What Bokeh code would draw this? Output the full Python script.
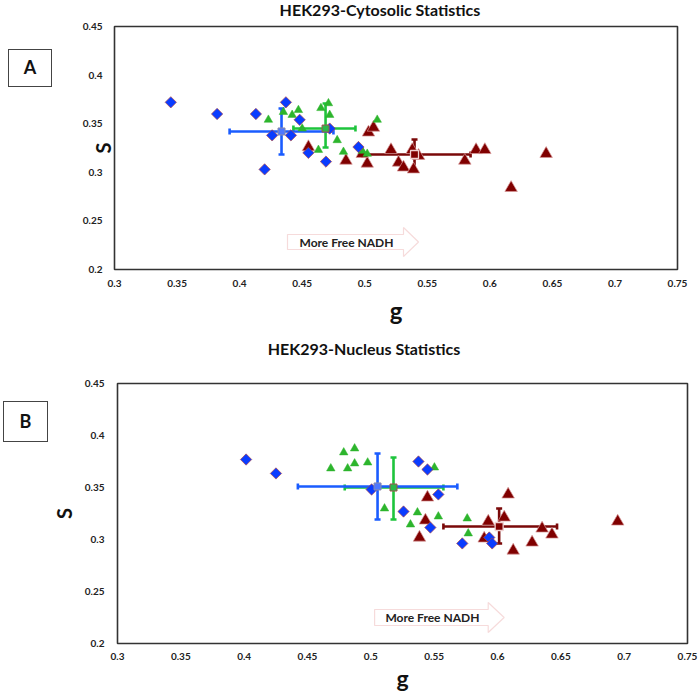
import math
from bokeh.plotting import figure
from bokeh.layouts import column, row
from bokeh.models import (Label, PolyAnnotation, Whisker, ColumnDataSource,
                          Range1d, TeeHead, FixedTicker, Div)
from bokeh.embed import file_html
from bokeh.resources import INLINE

# ---------------- data ----------------
X_TICKS = [0.3, 0.35, 0.4, 0.45, 0.5, 0.55, 0.6, 0.65, 0.7, 0.75]
X_TICK_LABELS = ["0.3", "0.35", "0.4", "0.45", "0.5", "0.55", "0.6", "0.65", "0.7", "0.75"]
Y_TICKS = [0.2, 0.25, 0.3, 0.35, 0.4, 0.45]
Y_TICK_LABELS = ["0.2", "0.25", "0.3", "0.35", "0.4", "0.45"]

# Panel A: HEK293-Cytosolic
A_blue_g = [0.345, 0.382, 0.413, 0.437, 0.448, 0.426, 0.441, 0.455, 0.420, 0.469, 0.472, 0.495]
A_blue_s = [0.372, 0.360, 0.360, 0.372, 0.354, 0.338, 0.338, 0.320, 0.303, 0.311, 0.345, 0.326]
A_green_g = [0.423, 0.435, 0.442, 0.447, 0.450, 0.465, 0.471, 0.472, 0.463, 0.478, 0.483, 0.510, 0.498, 0.502]
A_green_s = [0.354, 0.362, 0.359, 0.364, 0.345, 0.366, 0.371, 0.359, 0.323, 0.333, 0.321, 0.354, 0.322, 0.319]
A_red_g = [0.455, 0.485, 0.503, 0.507, 0.502, 0.498, 0.521, 0.527, 0.531, 0.538, 0.543, 0.539,
           0.580, 0.589, 0.596, 0.645, 0.617]
A_red_s = [0.326, 0.312, 0.341, 0.346, 0.309, 0.319, 0.323, 0.310, 0.305, 0.323, 0.317, 0.303,
           0.312, 0.323, 0.323, 0.319, 0.284]
# means and error extents: blue, green, red
A_mean_g = [0.4335, 0.4687, 0.5398]
A_mean_s = [0.342, 0.345, 0.3183]
A_g_lo = [0.392, 0.443, 0.498]
A_g_hi = [0.475, 0.4926, 0.5846]
A_s_lo = [0.3183, 0.3255, 0.3019]
A_s_hi = [0.3656, 0.3708, 0.3337]

# Panel B: HEK293-Nucleus
B_blue_g = [0.4015, 0.4251, 0.5376, 0.5447, 0.5006, 0.5533, 0.5258, 0.5470, 0.5722, 0.5935, 0.5958]
B_blue_s = [0.3769, 0.3635, 0.3750, 0.3673, 0.3481, 0.3433, 0.3269, 0.3115, 0.2962, 0.3019, 0.2962]
B_green_g = [0.4786, 0.4872, 0.4817, 0.4872, 0.4975, 0.4684, 0.5502, 0.5108, 0.5368, 0.5313,
             0.5533, 0.5761, 0.5769]
B_green_s = [0.3837, 0.3875, 0.3683, 0.3731, 0.3740, 0.3683, 0.3692, 0.3298, 0.3260, 0.3144,
             0.3221, 0.3202, 0.3058]
B_red_g = [0.5447, 0.6084, 0.5431, 0.5927, 0.6053, 0.6949, 0.5384, 0.5895, 0.6124, 0.6273, 0.6352, 0.6430]
B_red_s = [0.3404, 0.3433, 0.3183, 0.3173, 0.3212, 0.3173, 0.3019, 0.3010, 0.2894, 0.2971, 0.3106, 0.3048]
B_mean_g = [0.5053, 0.5179, 0.6013]
B_mean_s = [0.351, 0.350, 0.3125]
B_g_lo = [0.4424, 0.4794, 0.5573]
B_g_hi = [0.5683, 0.5573, 0.6470]
B_s_lo = [0.3192, 0.3192, 0.2962]
B_s_hi = [0.3827, 0.3788, 0.3298]

TITLE_A = "HEK293-Cytosolic Statistics"
TITLE_B = "HEK293-Nucleus Statistics"
ARROW_TEXT = "More Free NADH"

# ---------------- style ----------------
FONT = "Lato"
BLUE, BLUE_BAR = "#0a3cff", "#1a5cff"
GREEN, GREEN_BAR = "#2db52d", "#1ec43c"
RED, RED_BAR = "#800000", "#7a0808"
PAGE_W = 700


def title_div(text, center_x, top, height, center_y):
    # a strip spanning the page, text centred at center_x, center_y (page pixels)
    html = ('<div style="width:%dpx;height:%dpx;box-sizing:border-box;padding-top:%dpx;'
            'line-height:16px;text-align:center;font-family:Lato;font-weight:bold;'
            'font-size:16px;color:#111;white-space:nowrap">%s</div>'
            % (2 * center_x, height, center_y - top - 8, text))
    return Div(text=html, width=PAGE_W, height=height, margin=(0, 0, 0, 0))


def letter_div(letter, box, row_top):
    bl, br, bt, bb = box
    w, h = br - bl, bb - bt
    html = ('<div style="width:%dpx;height:%dpx;box-sizing:border-box;border:1.4px solid #444;'
            'display:flex;align-items:center;justify-content:center;font-family:Lato;'
            'font-weight:bold;font-size:18px;color:#111;background:white">%s</div>' % (w, h, letter))
    return Div(text=html, width=w, height=h, margin=(bt - row_top, 0, 0, bl))


def make_panel(fig_left, fig_top, fig_h, frame, s_standoff, g_standoff, g_size,
               tick_standoff_x, tick_standoff_y, arrow, arrow_text_xy, blue, green, red, means):
    fl, fr, ft, fb = frame   # page pixel edges of the plotting frame
    x0, x1, y0, y1 = 0.3, 0.75, 0.2, 0.45

    def gx(px):
        return x0 + (px - fl) * (x1 - x0) / (fr - fl)

    def sy(py):
        return y0 + (fb - py) * (y1 - y0) / (fb - ft)

    p = figure(width=PAGE_W - fig_left, height=fig_h, output_backend="svg", toolbar_location=None,
               x_range=Range1d(x0, x1), y_range=Range1d(y0, y1),
               min_border_left=fl - fig_left, min_border_right=PAGE_W - fr,
               min_border_top=ft - fig_top, min_border_bottom=fig_top + fig_h - fb)
    p.grid.visible = False
    p.outline_line_color = "#333333"
    p.outline_line_width = 1.6
    p.background_fill_color = "white"
    p.border_fill_color = "white"

    for ax, ticks, labels in ((p.xaxis, X_TICKS, X_TICK_LABELS), (p.yaxis, Y_TICKS, Y_TICK_LABELS)):
        ax.ticker = FixedTicker(ticks=ticks)
        ax.major_label_overrides = {t: l for t, l in zip(ticks, labels)}
        ax.axis_line_color = None
        ax.major_tick_line_color = None
        ax.minor_tick_line_color = None
        ax.major_tick_out = 0
        ax.major_tick_in = 0
        ax.minor_tick_out = 0
        ax.major_label_text_font = FONT
        ax.major_label_text_font_style = "bold"
        ax.major_label_text_font_size = "10px"
        ax.major_label_text_color = "#222222"
        ax.axis_label_text_font = FONT
        ax.axis_label_text_font_style = "bold"
        ax.axis_label_text_color = "#111111"
    p.xaxis.major_label_standoff = tick_standoff_x
    p.yaxis.major_label_standoff = tick_standoff_y
    p.xaxis.axis_label = "g"
    p.xaxis.axis_label_text_font_size = g_size
    p.xaxis.axis_label_standoff = g_standoff
    p.yaxis.axis_label = "S"
    p.yaxis.axis_label_text_font_size = "20px"
    p.yaxis.axis_label_standoff = s_standoff

    # points
    bg, bs = blue
    gg, gs = green
    rg, rs = red
    p.scatter(rg, rs, marker="triangle", size=12.5, fill_color=RED, line_color="#d89a9a", line_width=0.7)
    p.scatter(gg, gs, marker="triangle", size=8.5, fill_color=GREEN, line_color=GREEN, line_width=0.5)
    p.scatter(bg, bs, marker="square", angle=math.pi / 4, size=8, fill_color=BLUE,
              line_color="#b04848", line_width=0.7)

    # error bars
    mg, ms, glo, ghi, slo, shi = means
    bar_cols = [BLUE_BAR, GREEN_BAR, RED_BAR]
    for i in [2, 1, 0]:
        c = bar_cols[i]
        src = ColumnDataSource(dict(mg=[mg[i]], ms=[ms[i]], glo=[glo[i]], ghi=[ghi[i]],
                                    slo=[slo[i]], shi=[shi[i]]))
        p.add_layout(Whisker(source=src, base="ms", lower="glo", upper="ghi", dimension="width",
                             line_color=c, line_width=2.6,
                             lower_head=TeeHead(size=6, line_color=c, line_width=2.6),
                             upper_head=TeeHead(size=6, line_color=c, line_width=2.6)))
        p.add_layout(Whisker(source=src, base="mg", lower="slo", upper="shi", dimension="height",
                             line_color=c, line_width=2.6,
                             lower_head=TeeHead(size=6, line_color=c, line_width=2.6),
                             upper_head=TeeHead(size=6, line_color=c, line_width=2.6)))
    p.scatter([mg[0]], [ms[0]], marker="square", size=7, fill_color="#4f78ff", line_color="#8a8aa8", line_width=1)
    p.scatter([mg[1]], [ms[1]], marker="square", size=7, fill_color="#2ab84a", line_color="#a05050", line_width=1)
    p.scatter([mg[2]], [ms[2]], marker="square", size=8, fill_color=RED, line_color="#f0d0d0", line_width=1.3)

    # arrow annotation
    ax0, ax1, atip, ay_top, ay_bot, ah_top, ah_bot = arrow
    ymid = (ay_top + ay_bot) / 2
    xs = [gx(ax0), gx(ax1), gx(ax1), gx(atip), gx(ax1), gx(ax1), gx(ax0)]
    ys = [sy(ay_top), sy(ay_top), sy(ah_top), sy(ymid), sy(ah_bot), sy(ay_bot), sy(ay_bot)]
    p.add_layout(PolyAnnotation(xs=xs, ys=ys, fill_color="white", fill_alpha=1,
                                line_color="#e08888", line_width=1.2))
    p.add_layout(Label(x=gx(arrow_text_xy[0]), y=sy(arrow_text_xy[1]), text=ARROW_TEXT,
                       text_font=FONT, text_font_style="bold", text_font_size="12px",
                       text_color="#222222", text_align="center", text_baseline="middle"))
    return p


# Panel A: title strip 0..18, plot row 18..330
tA = title_div(TITLE_A, center_x=380, top=0, height=18, center_y=10)
divA = letter_div("A", (8, 52, 49, 87), row_top=18)
pA = make_panel(fig_left=52, fig_top=18, fig_h=312, frame=(114, 677, 26, 269),
                s_standoff=-35, g_standoff=6, g_size="24px", tick_standoff_x=10, tick_standoff_y=12,
                arrow=(287, 403, 418, 234, 249, 227, 256), arrow_text_xy=(346, 241.5),
                blue=(A_blue_g, A_blue_s), green=(A_green_g, A_green_s), red=(A_red_g, A_red_s),
                means=(A_mean_g, A_mean_s, A_g_lo, A_g_hi, A_s_lo, A_s_hi))

# Panel B: title strip 330..366, plot row 366..694
tB = title_div(TITLE_B, center_x=364, top=330, height=36, center_y=349)
divB = letter_div("B", (3, 48, 401, 442), row_top=366)
pB = make_panel(fig_left=48, fig_top=366, fig_h=328, frame=(115, 687, 383, 643),
                s_standoff=6, g_standoff=1, g_size="23px", tick_standoff_x=9, tick_standoff_y=13,
                arrow=(373, 487, 503, 609, 625, 602, 632), arrow_text_xy=(431, 617),
                blue=(B_blue_g, B_blue_s), green=(B_green_g, B_green_s), red=(B_red_g, B_red_s),
                means=(B_mean_g, B_mean_s, B_g_lo, B_g_hi, B_s_lo, B_s_hi))

layout = column(tA, row(divA, pA, spacing=0), tB, row(divB, pB, spacing=0), spacing=0)
open("out.html", "w").write(file_html(layout, INLINE))
